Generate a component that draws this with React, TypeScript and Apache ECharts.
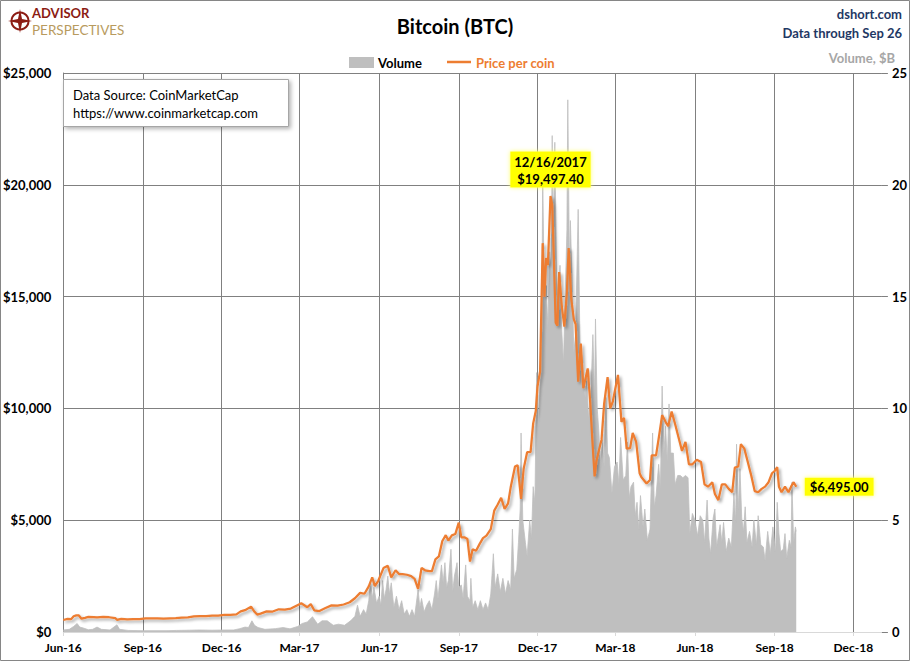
import React, { useEffect, useRef } from "react";
import * as echarts from "echarts";

const AXIS_START = "2016-06-01";
const AXIS_END = "2019-01-03";
const QUARTERS = ["2016-06-01","2016-09-01","2016-12-01","2017-03-01","2017-06-01","2017-09-01","2017-12-01","2018-03-01","2018-06-01","2018-09-01","2018-12-01"];
const QUARTER_LABELS = ["Jun-16","Sep-16","Dec-16","Mar-17","Jun-17","Sep-17","Dec-17","Mar-18","Jun-18","Sep-18","Dec-18"];

const PRICE: [string, number][] = [
["2016-06-01",537],["2016-06-06",585],["2016-06-10",575],["2016-06-13",705],["2016-06-16",745],["2016-06-19",740],["2016-06-22",595],["2016-06-26",630],["2016-06-30",673],["2016-07-06",670],["2016-07-10",650],["2016-07-17",680],["2016-07-24",660],["2016-07-31",625],["2016-08-02",545],["2016-08-07",590],["2016-08-14",570],["2016-08-21",580],["2016-08-28",575],["2016-09-04",610],["2016-09-11",605],["2016-09-18",610],["2016-09-25",600],["2016-10-02",612],["2016-10-09",617],["2016-10-16",640],["2016-10-23",655],["2016-10-30",700],["2016-11-06",705],["2016-11-13",705],["2016-11-20",730],["2016-11-27",735],["2016-12-04",765],["2016-12-11",770],["2016-12-18",790],["2016-12-23",920],["2016-12-28",975],["2017-01-04",1135],["2017-01-08",905],["2017-01-11",780],["2017-01-15",820],["2017-01-22",920],["2017-01-29",915],["2017-02-05",1015],["2017-02-12",998],["2017-02-19",1050],["2017-02-26",1190],["2017-03-03",1285],["2017-03-10",1110],["2017-03-14",1245],["2017-03-18",970],["2017-03-24",937],["2017-03-31",1070],["2017-04-07",1190],["2017-04-14",1180],["2017-04-21",1230],["2017-04-28",1330],["2017-05-04",1510],["2017-05-10",1750],["2017-05-15",1710],["2017-05-20",2040],["2017-05-24",2440],["2017-05-27",2050],["2017-05-31",2290],["2017-06-06",2860],["2017-06-11",2960],["2017-06-15",2440],["2017-06-20",2760],["2017-06-24",2590],["2017-06-28",2590],["2017-07-03",2560],["2017-07-08",2500],["2017-07-12",2380],["2017-07-16",1930],["2017-07-20",2870],["2017-07-24",2760],["2017-07-29",2720],["2017-08-01",2720],["2017-08-05",3250],["2017-08-09",3380],["2017-08-13",4070],["2017-08-17",4330],["2017-08-20",4090],["2017-08-24",4320],["2017-08-28",4380],["2017-09-01",4890],["2017-09-04",4230],["2017-09-08",4230],["2017-09-11",4160],["2017-09-14",3150],["2017-09-17",3700],["2017-09-21",3630],["2017-09-25",3930],["2017-09-29",4200],["2017-10-03",4310],["2017-10-08",4600],["2017-10-12",5430],["2017-10-16",5700],["2017-10-20",6000],["2017-10-24",5500],["2017-10-28",5750],["2017-10-31",6470],["2017-11-05",7400],["2017-11-08",7460],["2017-11-12",5950],["2017-11-15",7300],["2017-11-19",8040],["2017-11-23",8040],["2017-11-26",9330],["2017-11-29",9890],["2017-12-01",10980],["2017-12-04",11660],["2017-12-07",17390],["2017-12-09",15000],["2017-12-11",16730],["2017-12-13",16400],["2017-12-16",19497.4],["2017-12-18",19100],["2017-12-20",16600],["2017-12-22",13830],["2017-12-24",13700],["2017-12-26",16100],["2017-12-29",14600],["2018-01-01",13660],["2018-01-04",15200],["2018-01-06",17170],["2018-01-09",14900],["2018-01-12",13980],["2018-01-14",13770],["2018-01-17",11190],["2018-01-20",12900],["2018-01-23",10900],["2018-01-28",11790],["2018-01-31",10220],["2018-02-02",8830],["2018-02-05",6955],["2018-02-07",7620],["2018-02-10",8130],["2018-02-13",8600],["2018-02-16",10200],["2018-02-20",11400],["2018-02-23",10000],["2018-02-26",10300],["2018-03-01",10900],["2018-03-04",11500],["2018-03-08",9400],["2018-03-11",9580],["2018-03-14",8200],["2018-03-18",8220],["2018-03-21",8900],["2018-03-25",8500],["2018-03-29",7100],["2018-03-31",6930],["2018-04-06",6640],["2018-04-10",6800],["2018-04-12",7900],["2018-04-17",7900],["2018-04-21",8900],["2018-04-24",9700],["2018-04-28",9400],["2018-05-01",9200],["2018-05-05",9860],["2018-05-09",9300],["2018-05-13",8700],["2018-05-17",8100],["2018-05-21",8500],["2018-05-25",7500],["2018-05-29",7500],["2018-06-03",7700],["2018-06-08",7600],["2018-06-12",6600],["2018-06-16",6500],["2018-06-21",6700],["2018-06-24",6170],["2018-06-28",5900],["2018-07-02",6600],["2018-07-06",6600],["2018-07-10",6400],["2018-07-14",6250],["2018-07-17",7350],["2018-07-21",7400],["2018-07-24",8400],["2018-07-28",8200],["2018-08-01",7600],["2018-08-05",7000],["2018-08-09",6300],["2018-08-13",6250],["2018-08-17",6400],["2018-08-21",6500],["2018-08-25",6700],["2018-08-29",7100],["2018-09-01",7200],["2018-09-04",7370],["2018-09-06",6500],["2018-09-09",6250],["2018-09-13",6500],["2018-09-17",6250],["2018-09-20",6500],["2018-09-23",6700],["2018-09-26",6495]
];

const VOLUME: [string, number][] = [
["2016-06-01",0.09],["2016-06-08",0.12],["2016-06-13",0.25],["2016-06-17",0.38],["2016-06-20",0.22],["2016-06-24",0.18],["2016-06-30",0.1],["2016-07-05",0.12],["2016-07-10",0.22],["2016-07-15",0.12],["2016-07-25",0.09],["2016-08-02",0.32],["2016-08-05",0.12],["2016-08-15",0.07],["2016-08-31",0.06],["2016-09-15",0.06],["2016-09-30",0.06],["2016-10-10",0.07],["2016-10-25",0.08],["2016-11-05",0.09],["2016-11-20",0.08],["2016-12-05",0.09],["2016-12-15",0.09],["2016-12-22",0.15],["2016-12-28",0.22],["2017-01-01",0.2],["2017-01-05",0.5],["2017-01-08",0.3],["2017-01-12",0.2],["2017-01-20",0.12],["2017-02-01",0.15],["2017-02-10",0.2],["2017-02-18",0.14],["2017-02-27",0.25],["2017-03-04",0.38],["2017-03-10",0.45],["2017-03-16",0.68],["2017-03-22",0.35],["2017-03-27",0.5],["2017-04-02",0.5],["2017-04-09",0.3],["2017-04-15",0.35],["2017-04-22",0.3],["2017-04-29",0.5],
["2017-05-04",0.7],["2017-05-07",1.2],["2017-05-10",0.7],["2017-05-14",1.0],["2017-05-17",0.8],["2017-05-20",1.4],["2017-05-22",2.3],["2017-05-24",1.5],["2017-05-26",2.0],["2017-05-29",1.3],["2017-06-01",1.6],["2017-06-03",1.2],["2017-06-05",2.3],["2017-06-07",1.5],["2017-06-09",1.9],["2017-06-11",2.5],["2017-06-13",1.7],["2017-06-15",2.2],["2017-06-18",1.1],["2017-06-21",1.6],["2017-06-24",1.0],["2017-06-27",1.4],["2017-06-30",0.8],["2017-07-03",1.0],["2017-07-06",0.7],["2017-07-09",1.0],["2017-07-12",0.7],["2017-07-16",1.9],["2017-07-18",1.1],["2017-07-20",1.5],["2017-07-23",0.9],["2017-07-26",1.2],["2017-07-29",1.4],["2017-08-01",1.0],["2017-08-04",1.7],["2017-08-06",2.3],["2017-08-08",1.5],["2017-08-12",3.0],["2017-08-14",2.2],["2017-08-16",3.1],["2017-08-18",2.0],["2017-08-20",2.3],["2017-08-23",3.7],["2017-08-25",1.8],["2017-08-27",2.5],["2017-08-30",3.1],["2017-09-01",2.0],["2017-09-04",2.1],["2017-09-06",1.5],["2017-09-09",3.0],["2017-09-11",1.6],["2017-09-14",1.4],["2017-09-15",2.4],["2017-09-17",1.1],["2017-09-20",1.4],["2017-09-23",1.0],["2017-09-26",1.4],["2017-09-29",1.0],["2017-10-02",1.3],["2017-10-05",1.0],["2017-10-08",1.7],["2017-10-11",3.5],["2017-10-13",2.0],["2017-10-16",2.6],["2017-10-19",1.8],["2017-10-22",2.4],["2017-10-25",1.7],["2017-10-28",2.3],["2017-10-31",1.9],["2017-11-02",4.6],["2017-11-04",2.4],["2017-11-07",2.8],["2017-11-09",4.0],["2017-11-11",5.5],["2017-11-12",8.9],["2017-11-14",5.0],["2017-11-17",4.0],["2017-11-19",3.4],["2017-11-22",5.0],["2017-11-24",4.2],["2017-11-26",6.5],["2017-11-28",5.8],["2017-11-30",11.6],["2017-12-02",9.0],["2017-12-04",11.0],["2017-12-06",13.8],["2017-12-07",20.5],["2017-12-09",14.5],["2017-12-11",15.5],["2017-12-13",13.6],["2017-12-15",17.0],["2017-12-17",16.0],["2017-12-18",22.2],["2017-12-19",17.5],["2017-12-21",21.9],["2017-12-23",16.0],["2017-12-25",14.5],["2017-12-27",16.4],["2017-12-29",13.5],["2017-12-31",12.0],["2018-01-02",15.0],["2018-01-04",18.0],["2018-01-05",23.8],["2018-01-07",16.0],["2018-01-08",18.4],["2018-01-10",15.6],["2018-01-12",12.5],["2018-01-14",13.3],["2018-01-16",17.0],["2018-01-17",18.9],["2018-01-19",13.0],["2018-01-22",12.0],["2018-01-25",10.5],["2018-01-27",11.5],["2018-01-29",9.5],["2018-02-01",11.0],["2018-02-03",13.3],["2018-02-05",10.5],["2018-02-06",14.0],["2018-02-08",10.0],["2018-02-10",8.9],["2018-02-12",7.2],["2018-02-14",8.6],["2018-02-16",7.4],["2018-02-18",10.5],["2018-02-20",8.0],["2018-02-22",7.8],["2018-02-25",6.2],["2018-02-28",7.4],["2018-03-03",7.6],["2018-03-05",6.6],["2018-03-07",8.7],["2018-03-10",6.8],["2018-03-13",7.0],["2018-03-15",8.5],["2018-03-17",6.0],["2018-03-19",6.5],["2018-03-22",6.7],["2018-03-24",5.2],["2018-03-26",5.8],["2018-03-28",4.6],["2018-03-30",6.1],["2018-04-02",4.7],["2018-04-04",5.5],["2018-04-07",4.1],["2018-04-10",4.6],["2018-04-13",8.9],["2018-04-15",5.6],["2018-04-17",6.1],["2018-04-20",7.5],["2018-04-22",6.4],["2018-04-24",11.0],["2018-04-26",8.0],["2018-04-28",9.2],["2018-04-30",7.6],["2018-05-02",10.2],["2018-05-04",8.0],["2018-05-07",8.0],["2018-05-09",6.6],["2018-05-12",7.0],["2018-05-15",7.0],["2018-05-18",6.9],["2018-05-21",7.0],["2018-05-24",6.9],["2018-05-26",4.4],["2018-05-29",5.3],["2018-06-01",5.0],["2018-06-04",4.3],["2018-06-07",5.2],["2018-06-10",5.0],["2018-06-12",4.0],["2018-06-15",5.9],["2018-06-17",4.2],["2018-06-19",3.5],["2018-06-22",5.1],["2018-06-24",5.5],["2018-06-26",3.8],["2018-06-30",4.8],["2018-07-02",4.0],["2018-07-04",4.9],["2018-07-07",3.6],["2018-07-10",4.2],["2018-07-13",3.8],["2018-07-16",6.2],["2018-07-18",4.9],["2018-07-19",8.4],["2018-07-21",5.5],["2018-07-23",7.3],["2018-07-25",5.1],["2018-07-27",4.5],["2018-07-29",5.6],["2018-07-31",4.0],["2018-08-03",4.5],["2018-08-06",3.8],["2018-08-08",5.0],["2018-08-11",3.9],["2018-08-13",5.2],["2018-08-16",3.9],["2018-08-19",3.8],["2018-08-21",3.2],["2018-08-24",4.5],["2018-08-27",3.5],["2018-08-30",4.7],["2018-09-02",3.6],["2018-09-04",5.8],["2018-09-06",4.4],["2018-09-08",3.6],["2018-09-11",3.7],["2018-09-13",4.4],["2018-09-15",3.3],["2018-09-18",4.1],["2018-09-20",3.8],["2018-09-21",6.7],["2018-09-23",4.0],["2018-09-25",4.7],["2018-09-26",4.5]
];

const PEAK_DATE = "2017-12-16";
const PEAK_PRICE = 19497.4;
const PEAK_LABEL = "12/16/2017\n$19,497.40";
const LAST_DATE = "2018-09-26";
const LAST_PRICE = 6495;
const LAST_LABEL = "$6,495.00";

const PRICE_MAX = 25000;
const PRICE_STEP = 5000;
const VOL_MAX = 25;
const VOL_STEP = 5;

const FONT = "Lato, 'Open Sans', sans-serif";
const ORANGE = "#ED7D31";
const GRAY = "#BFBFBF";
const GRID = "#808080";

function buildDays(start: string, end: string): string[] {
  const out: string[] = [];
  let t = Date.parse(start + "T00:00:00Z");
  const e = Date.parse(end + "T00:00:00Z");
  while (t <= e) {
    out.push(new Date(t).toISOString().slice(0, 10));
    t += 86400000;
  }
  return out;
}

export default function App() {
  const ref = useRef<HTMLDivElement>(null);
  useEffect(() => {
    if (!ref.current) return;
    const chart = echarts.init(ref.current, undefined, { renderer: "svg" });
    const days = buildDays(AXIS_START, AXIS_END);
    const idx: Record<string, number> = {};
    days.forEach((d, i) => (idx[d] = i));
    const qset: Record<string, string> = {};
    QUARTERS.forEach((q, i) => (qset[q] = QUARTER_LABELS[i]));
    const isQ = (i: number, v: string) => qset[v] !== undefined;

    const option: any = {
      animation: false,
      backgroundColor: "#fff",
      grid: { left: 62, right: 28, top: 73, bottom: 29, containLabel: false },
      xAxis: {
        type: "category",
        data: days,
        boundaryGap: false,
        axisLine: { show: true, lineStyle: { color: "#D9D9D9", width: 1 } },
        axisTick: { show: true, interval: isQ, length: 4, lineStyle: { color: "#D9D9D9" } },
        axisLabel: {
          interval: isQ,
          formatter: (v: string) => qset[v] || "",
          fontFamily: FONT, fontWeight: "bold", fontSize: 12, color: "#000", margin: 9,
        },
        splitLine: { show: true, interval: isQ, lineStyle: { color: GRID, width: 1 } },
      },
      yAxis: [
        {
          type: "value", min: 0, max: PRICE_MAX, interval: PRICE_STEP,
          axisLine: { show: true, lineStyle: { color: GRID } },
          axisTick: { show: false },
          axisLabel: {
            formatter: (v: number) => "$" + v.toLocaleString("en-US"),
            fontFamily: FONT, fontWeight: "bold", fontSize: 13, color: "#000", margin: 12,
          },
          splitLine: { show: true, lineStyle: { color: GRID, width: 1 } },
        },
        {
          type: "value", min: 0, max: VOL_MAX, interval: VOL_STEP, position: "right",
          axisLine: { show: false },
          axisTick: { show: true, length: 6, lineStyle: { color: GRID } },
          axisLabel: { fontFamily: FONT, fontWeight: "bold", fontSize: 13, color: "#000", margin: 10 },
          splitLine: { show: false },
        },
      ],
      series: [
        {
          name: "Volume", type: "line", yAxisIndex: 1, symbol: "none", z: 1,
          data: VOLUME.map(([d, v]) => [idx[d], v]),
          lineStyle: { color: GRAY, width: 0.8 },
          areaStyle: { color: GRAY, opacity: 1 },
        },
        {
          name: "Price per coin", type: "line", yAxisIndex: 0, symbol: "none", z: 3,
          data: PRICE.map(([d, v]) => [idx[d], v]),
          lineStyle: {
            color: ORANGE, width: 2.25,
            shadowColor: "rgba(0,0,0,0.35)", shadowBlur: 3, shadowOffsetX: 2, shadowOffsetY: 2,
          },
          markPoint: {
            symbol: "circle", symbolSize: 1,
            itemStyle: { color: "rgba(0,0,0,0)" },
            data: [
              {
                coord: [idx[PEAK_DATE], PEAK_PRICE],
                label: {
                  show: true, position: "top", distance: 8, formatter: PEAK_LABEL,
                  backgroundColor: "#FFFF00", padding: [2, 4, 0, 4], lineHeight: 17,
                  fontFamily: FONT, fontWeight: "bold", fontSize: 13, color: "#000",
                  shadowColor: "#FFFF66", shadowBlur: 4, align: "center",
                },
              },
              {
                coord: [idx[LAST_DATE], LAST_PRICE],
                label: {
                  show: true, position: "right", distance: 8, formatter: LAST_LABEL,
                  backgroundColor: "#FFFF00", padding: [2, 5, 1, 5], lineHeight: 15,
                  fontFamily: FONT, fontWeight: "bold", fontSize: 13, color: "#000",
                  shadowColor: "#FFFF66", shadowBlur: 4,
                },
              },
            ],
          },
        },
      ],
      graphic: [
        { type: "rect", shape: { x: 0.5, y: 0.5, width: 909, height: 660 }, style: { fill: "none", stroke: "#868686", lineWidth: 1 }, silent: true },
        // logo
        { type: "circle", shape: { cx: 20, cy: 21, r: 8.5 }, style: { fill: "none", stroke: "#8C1C13", lineWidth: 2 } },
        { type: "polygon", shape: { points: [[20, 9], [22, 19], [32, 21], [22, 23], [20, 33], [18, 23], [8, 21], [18, 19]] }, style: { fill: "#8C1C13" } },
        { type: "text", x: 32, y: 13, style: { text: "ADVISOR", fontFamily: FONT, fontWeight: "bold", fontSize: 13, fill: "#8C1C13", verticalAlign: "middle" } },
        { type: "text", x: 32, y: 29.5, style: { text: "PERSPECTIVES", fontFamily: FONT, fontSize: 13.5, fill: "#B89B5E", verticalAlign: "middle" } },
        // titles
        { type: "text", x: 455, y: 26, style: { text: "Bitcoin (BTC)", fontFamily: FONT, fontWeight: "bold", fontSize: 20, fill: "#000", align: "center", verticalAlign: "middle" } },
        { type: "text", x: 902, y: 14, style: { text: "dshort.com", fontFamily: FONT, fontWeight: "bold", fontSize: 13, fill: "#1F3864", align: "right", verticalAlign: "middle" } },
        { type: "text", x: 902, y: 33, style: { text: "Data through Sep 26", fontFamily: FONT, fontWeight: "bold", fontSize: 13, fill: "#1F3864", align: "right", verticalAlign: "middle" } },
        { type: "text", x: 895, y: 58, style: { text: "Volume, $B", fontFamily: FONT, fontWeight: "bold", fontSize: 13, fill: "#A6A6A6", align: "right", verticalAlign: "middle" } },
        // legend
        { type: "rect", shape: { x: 349, y: 57, width: 25, height: 11 }, style: { fill: GRAY } },
        { type: "text", x: 378, y: 62.5, style: { text: "Volume", fontFamily: FONT, fontWeight: "bold", fontSize: 13, fill: "#000", verticalAlign: "middle" } },
        { type: "line", shape: { x1: 447, y1: 62, x2: 471, y2: 62 }, style: { stroke: ORANGE, lineWidth: 2.5 } },
        { type: "text", x: 476, y: 62.5, style: { text: "Price per coin", fontFamily: FONT, fontWeight: "bold", fontSize: 13, fill: ORANGE, verticalAlign: "middle" } },
        // data source box
        { type: "rect", shape: { x: 63.5, y: 79.5, width: 225, height: 47 }, style: { fill: "#fff", stroke: "#A6A6A6", lineWidth: 1, shadowColor: "rgba(0,0,0,0.3)", shadowBlur: 4, shadowOffsetX: 2, shadowOffsetY: 2 }, z: 10 },
        { type: "text", x: 73, y: 95, z: 11, style: { text: "Data Source: CoinMarketCap", fontFamily: FONT, fontSize: 13, fill: "#000", verticalAlign: "middle" } },
        { type: "text", x: 73, y: 113, z: 11, style: { text: "https://www.coinmarketcap.com", fontFamily: FONT, fontSize: 13, fill: "#000", verticalAlign: "middle" } },
      ],
    };
    chart.setOption(option);
    return () => chart.dispose();
  }, []);
  return <div ref={ref} style={{ position: "fixed", left: 0, top: 0, width: 910, height: 661 }} />;
}
